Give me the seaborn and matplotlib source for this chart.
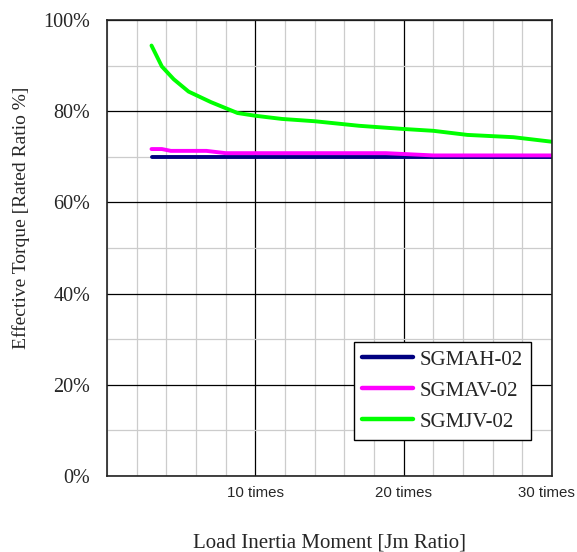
import matplotlib
matplotlib.use("Agg")
import matplotlib.pyplot as plt
import matplotlib.transforms as mtransforms
import numpy as np
import pandas as pd
import seaborn as sns
from matplotlib.ticker import FixedLocator, MultipleLocator

# ── Datos ──────────────────────────────────────────────────────────
sgmah_x = [3, 30]
sgmah_y = [70.0, 70.0]

sgmav_x = [3, 3.7, 4.3, 6.7, 8, 18.8, 22, 30]
sgmav_y = [71.7, 71.7, 71.3, 71.3, 70.8, 70.8, 70.3, 70.3]

sgmjv_x = [3, 3.7, 4.5, 5.5, 7, 8.8, 10, 11.8, 14, 17, 20, 22, 24.3, 27.4, 30]
sgmjv_y = [94.4, 89.8, 87.0, 84.3, 82.0, 79.6, 79.0, 78.3, 77.8, 76.8, 76.1, 75.7, 74.8, 74.3, 73.3]

series_names = ["SGMAH-02", "SGMAV-02", "SGMJV-02"]
series_colors = ["#000080", "#FF00FF", "#00FF00"]

x_ticks = [10, 20, 30]
x_tick_labels = ["10 times", "20 times", "30 times"]
y_ticks = [0, 20, 40, 60, 80, 100]
y_tick_labels = ["0%", "20%", "40%", "60%", "80%", "100%"]

df = pd.concat([
    pd.DataFrame({"x": sgmah_x, "y": sgmah_y, "model": series_names[0]}),
    pd.DataFrame({"x": sgmav_x, "y": sgmav_y, "model": series_names[1]}),
    pd.DataFrame({"x": sgmjv_x, "y": sgmjv_y, "model": series_names[2]}),
], ignore_index=True)

sns.set_style("white")
serif = ["Liberation Serif", "DejaVu Serif"]
sans = ["Liberation Sans", "DejaVu Sans"]

fig = plt.figure(figsize=(5.77, 5.52), dpi=100)
ax = fig.add_axes([107 / 577, 76 / 552, 445 / 577, 456 / 552])

sns.lineplot(
    data=df, x="x", y="y", hue="model",
    palette=dict(zip(series_names, series_colors)),
    hue_order=series_names, estimator=None, sort=False,
    linewidth=2.8, ax=ax,
)

ax.set_xlim(0, 30)
ax.set_ylim(0, 100)

# ── Rejilla ────────────────────────────────────────────────────────
ax.xaxis.set_major_locator(FixedLocator(x_ticks))
ax.xaxis.set_minor_locator(MultipleLocator(2))
ax.yaxis.set_major_locator(FixedLocator(y_ticks))
ax.yaxis.set_minor_locator(MultipleLocator(10))
ax.grid(which="minor", color="#cccccc", linewidth=0.9)
ax.grid(which="major", color="black", linewidth=0.9)
ax.set_axisbelow(True)
ax.tick_params(which="both", length=0)

ax.set_xticklabels(x_tick_labels, fontfamily=sans, fontsize=10.8)
ax.set_yticklabels(y_tick_labels, fontfamily=serif, fontsize=14.5)
ax.tick_params(axis="x", pad=7)
ax.tick_params(axis="y", pad=12)

# la última etiqueta se desplaza un poco para que quepa en la figura
last = ax.get_xticklabels()[-1]
last.set_transform(last.get_transform()
                   + mtransforms.ScaledTranslation(-4 / 72, 0, fig.dpi_scale_trans))

for sp in ax.spines.values():
    sp.set_color("#222222")
    sp.set_linewidth(1.2)

ax.set_xlabel("Load Inertia Moment [Jm Ratio]", fontfamily=serif, fontsize=15, va="center")
ax.xaxis.set_label_coords(0.5, -0.147)
ax.set_ylabel("Effective Torque [Rated Ratio %]", fontfamily=serif, fontsize=14, va="center")
ax.yaxis.set_label_coords(-0.193, 0.566)

# ── Leyenda ────────────────────────────────────────────────────────
handles, labels = ax.get_legend_handles_labels()
leg = ax.legend(
    handles, labels, loc="lower right", bbox_to_anchor=(0.953, 0.079),
    borderaxespad=0, frameon=True, fancybox=False, framealpha=1,
    edgecolor="black", prop={"family": serif, "size": 15},
    handlelength=2.45, handletextpad=0.3, labelspacing=0.55, borderpad=0.4,
)
leg.get_frame().set_linewidth(1.0)
for ln in leg.get_lines():
    ln.set_linewidth(3.2)

fig.savefig("out.png", dpi=100)
